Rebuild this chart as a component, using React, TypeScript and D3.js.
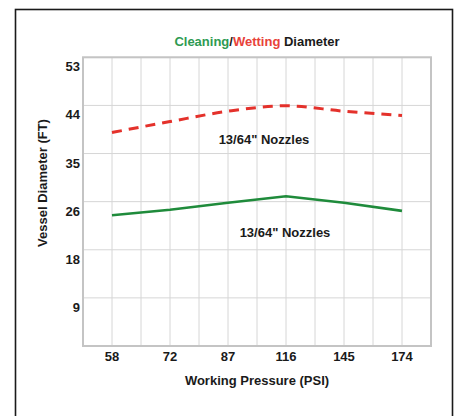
import React from "react";
import * as d3 from "d3";

const categories = ["58", "72", "87", "116", "145", "174"];
const wettingValues = [39.2, 41.2, 43.1, 44.1, 43.1, 42.3];
const cleaningValues = [24.0, 25.0, 26.3, 27.5, 26.3, 24.8];
const yTickLabels = ["53", "44", "35", "26", "18", "9"];
const yMax = 53;
const annotation = '13/64" Nozzles';

const W = 459;
const H = 416;
const left = 83;
const right = 431;
const top = 57.3;
const bottom = 346;
const font = "'Liberation Sans', Arial, Helvetica, sans-serif";

export default function App() {
  const x = d3.scalePoint<string>().domain(categories).range([left, right]).padding(0.5);
  const step = x.step();
  const y = d3.scaleLinear().domain([0, yMax]).range([bottom, top]);
  const level = d3.scaleLinear().domain([0, yTickLabels.length]).range([top, bottom]);

  const vLines: number[] = [];
  categories.forEach((c) => {
    vLines.push((x(c) as number) - step / 2);
    vLines.push(x(c) as number);
  });
  vLines.push(right);

  const hLines = d3.range(yTickLabels.length + 1).map((i) => level(i));

  const wetLine = d3
    .line<number>()
    .x((_, i) => x(categories[i]) as number)
    .y((d) => y(d))
    .curve(d3.curveMonotoneX);
  const cleanLine = d3
    .line<number>()
    .x((_, i) => x(categories[i]) as number)
    .y((d) => y(d));

  return (
    <svg
      width={W}
      height={H}
      style={{ position: "absolute", left: 0, top: 0, background: "#fff" }}
      fontFamily={font}
      fontWeight="bold"
    >
      <rect x={15.5} y={9.5} width={437} height={420} fill="#fff" stroke="#1a1a1a" strokeWidth={1.6} />
      {/* grid */}
      {vLines.map((v, i) => (
        <line key={"v" + i} x1={v} x2={v} y1={top} y2={bottom} stroke="#d6d6d6" strokeWidth={1} />
      ))}
      {hLines.map((v, i) => (
        <line key={"h" + i} x1={left} x2={right} y1={v} y2={v} stroke="#d6d6d6" strokeWidth={1} />
      ))}
      <rect x={left} y={top} width={right - left} height={bottom - top} fill="none" stroke="#c4c4c4" strokeWidth={2} />

      {/* y tick labels */}
      {yTickLabels.map((t, i) => (
        <text key={"yl" + i} x={80} y={level(i) + 9.5} dy="0.35em" textAnchor="end" fontSize={13} fill="#1a1a1a">
          {t}
        </text>
      ))}
      {/* x tick labels */}
      {categories.map((c) => (
        <text key={"xl" + c} x={x(c) as number} y={356.5} dy="0.35em" textAnchor="middle" fontSize={13} fill="#1a1a1a">
          {c}
        </text>
      ))}

      {/* lines */}
      <path d={wetLine(wettingValues) || ""} fill="none" stroke="#e4312b" strokeWidth={3} strokeDasharray="10,7" />
      <path d={cleanLine(cleaningValues) || ""} fill="none" stroke="#1f8b3b" strokeWidth={2.6} />

      {/* annotations */}
      <text x={264} y={139} dy="0.35em" textAnchor="middle" fontSize={13} fill="#1a1a1a">
        {annotation}
      </text>
      <text x={285} y={232.3} dy="0.35em" textAnchor="middle" fontSize={13} fill="#1a1a1a">
        {annotation}
      </text>

      {/* title */}
      <text x={(left + right) / 2} y={41} dy="0.35em" textAnchor="middle" fontSize={13}>
        <tspan fill="#2e9a52">Cleaning</tspan>
        <tspan fill="#1a1a1a">/</tspan>
        <tspan fill="#e8423a">Wetting</tspan>
        <tspan fill="#1a1a1a"> Diameter</tspan>
      </text>

      {/* axis titles */}
      <text x={(left + right) / 2} y={380} dy="0.35em" textAnchor="middle" fontSize={13} fill="#1a1a1a">
        Working Pressure (PSI)
      </text>
      <text
        transform={`translate(42.7, 183) rotate(-90)`}
        dy="0.35em"
        textAnchor="middle"
        fontSize={13}
        fill="#1a1a1a"
      >
        Vessel Diameter (FT)
      </text>
    </svg>
  );
}
